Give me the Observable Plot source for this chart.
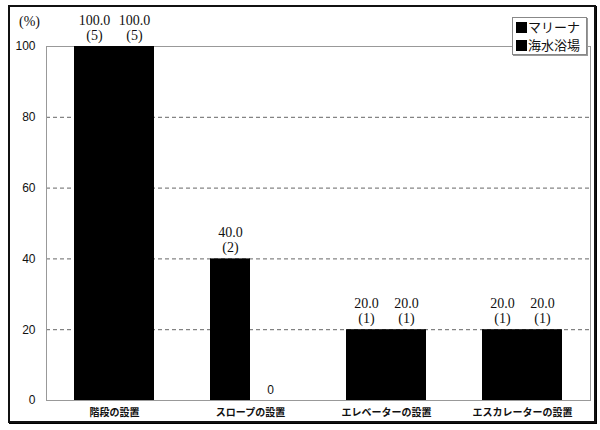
<!DOCTYPE html>
<html>
<head>
<meta charset="utf-8">
<script src="https://cdn.jsdelivr.net/npm/d3@7"></script>
<script src="https://cdn.jsdelivr.net/npm/@observablehq/plot@0.6"></script>
<style>
  html, body { margin: 0; padding: 0; background: #fff; }
  #wrap { position: relative; width: 600px; height: 430px; overflow: hidden; background: #fff; }
  #border { position: absolute; left: 8px; top: 5px; width: 584px; height: 414px; border: 2px solid #111; box-shadow: 1px 1px 0 #000; }
  #chart { position: absolute; left: 0; top: 0; }
  #unit { position: absolute; left: 19px; top: 14px; font: 14px "Liberation Serif", serif; color: #111; }
  #legend { position: absolute; left: 512px; top: 17px; width: 73px; height: 36px; border: 1px solid #888; background: #fff; box-shadow: 1px 1px 0 #999; font: 13px/18px "Noto Sans CJK JP", sans-serif; color: #111; }
  #legend div { height: 18px; line-height: 18px; white-space: nowrap; padding-left: 3px; overflow: hidden; }
  #legend span.sw { display: inline-block; width: 11px; height: 11px; background: #000; margin-right: 1px; vertical-align: -1px; }
</style>
</head>
<body>
<div id="wrap">
  <div id="border"></div>
  <div id="chart"></div>
  <div id="unit">(%)</div>
  <div id="legend"></div>
</div>
<script>
const categories = ["階段の設置", "スロープの設置", "エレベーターの設置", "エスカレーターの設置"];
const series = ["マリーナ", "海水浴場"];
const marinaValues = [100, 40, 20, 20];
const marinaCounts = [5, 2, 1, 1];
const beachValues = [100, 0, 20, 20];
const beachCounts = [5, 0, 1, 1];
const yTicks = [0, 20, 40, 60, 80, 100];
const gridTicks = [20, 40, 60, 80];

const marina = categories.map((c, i) => ({category: c, series: series[0], value: marinaValues[i], count: marinaCounts[i]}));
const beach = categories.map((c, i) => ({category: c, series: series[1], value: beachValues[i], count: beachCounts[i]}));

const valueFont = {fontFamily: "Liberation Serif", fontSize: 14, fill: "#111"};

function labelMarks(data, dx) {
  const pos = data.filter(d => d.value > 0);
  const zero = data.filter(d => d.value === 0);
  return [
    Plot.text(pos, {x: "category", y: "value", text: d => d.value.toFixed(1), dx, dy: -26, ...valueFont}),
    Plot.text(pos, {x: "category", y: "value", text: d => `(${d.count})`, dx, dy: -11, ...valueFont}),
    Plot.text(zero, {x: "category", y: "value", text: d => String(d.value), dx, dy: -10, fontFamily: "Liberation Sans", fontSize: 12, fill: "#111"})
  ];
}

const chart = Plot.plot({
  width: 600,
  height: 430,
  marginLeft: 46,
  marginRight: 10,
  marginTop: 46,
  marginBottom: 30,
  style: {fontFamily: "Liberation Sans", fontSize: "12px", background: "transparent", color: "#111"},
  x: {domain: categories, paddingInner: 56 / 136, paddingOuter: 28 / 136, label: null},
  y: {domain: [0, 100], label: null},
  marks: [
    Plot.gridY(gridTicks, {stroke: "#666", strokeOpacity: 1, strokeDasharray: "4,3"}),
    Plot.frame({stroke: "#999"}),
    Plot.barY(marina, {x: "category", y: "value", fill: "#000", insetRight: 40}),
    Plot.barY(beach, {x: "category", y: "value", fill: "#000", insetLeft: 40}),
    ...labelMarks(marina, -20),
    ...labelMarks(beach, 20),
    Plot.axisY(yTicks, {tickSize: 0, tickPadding: 11, fontSize: 12, label: null}),
    Plot.axisX({tickSize: 0, tickPadding: 8, fontSize: 10, fontWeight: "bold", fontFamily: "Noto Sans CJK JP", label: null})
  ]
});
document.getElementById("chart").appendChild(chart);

const legend = document.getElementById("legend");
series.forEach(s => {
  const row = document.createElement("div");
  const sw = document.createElement("span");
  sw.className = "sw";
  row.appendChild(sw);
  row.appendChild(document.createTextNode(s));
  legend.appendChild(row);
});
</script>
</body>
</html>
